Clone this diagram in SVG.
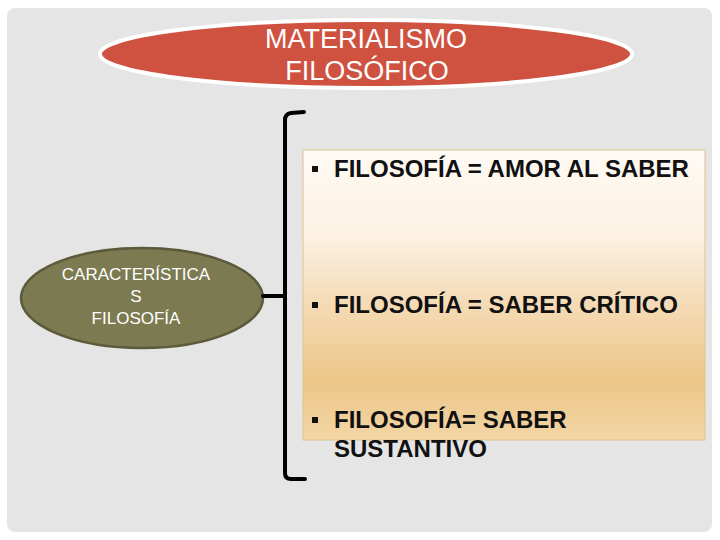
<svg xmlns="http://www.w3.org/2000/svg" width="720" height="540" viewBox="0 0 720 540">
<defs>
<linearGradient id="boxg" x1="0" y1="0" x2="0" y2="1">
<stop offset="0" stop-color="#fefaf4"/>
<stop offset="0.3" stop-color="#fcf1e2"/>
<stop offset="0.55" stop-color="#f4d9b2"/>
<stop offset="0.8" stop-color="#ecc688"/>
<stop offset="1" stop-color="#f2d6a6"/>
</linearGradient>
<style>
.title{font-family:"Liberation Sans",Arial,sans-serif;font-size:27px;fill:#ffffff;text-anchor:middle}
.olive{font-family:"Liberation Sans",Arial,sans-serif;font-size:17px;fill:#ffffff;text-anchor:middle}
.item{font-family:"Liberation Sans",Arial,sans-serif;font-size:24px;font-weight:bold;fill:#111111}
.line{fill:none;stroke:#000000;stroke-width:4;stroke-linecap:round;stroke-linejoin:round}
</style>
</defs>
<rect x="0" y="0" width="720" height="540" fill="#ffffff"/>
<rect x="7" y="8" width="705" height="524" rx="8" fill="#e5e5e5"/>
<g id="title">
<ellipse cx="366" cy="54" rx="266" ry="34" fill="#cf5240" stroke="#ffffff" stroke-width="4"/>
<text class="title" x="366" y="48">MATERIALISMO</text>
<text class="title" x="367" y="80">FILOSÓFICO</text>
</g>
<g id="caracteristicas">
<ellipse cx="142" cy="298" rx="121" ry="50" fill="#7c7a50" stroke="#5b5a3a" stroke-width="2.5"/>
<text class="olive" x="136" y="280">CARACTERÍSTICA</text>
<text class="olive" x="136" y="302">S</text>
<text class="olive" x="136" y="324">FILOSOFÍA</text>
</g>
<g id="connectors">
<path class="line" d="M304,112 L291,113 Q285,114 285,120 L285,473 Q285,479 291,479 L305,479"/>
<path class="line" d="M263,296 L285,296"/>
</g>
<g id="definiciones">
<rect x="303" y="150" width="402" height="290" fill="url(#boxg)" stroke="#dcc58c" stroke-width="1"/>
<rect x="312" y="166" width="6" height="6" fill="#111111"/>
<text class="item" x="334" y="177">FILOSOFÍA = AMOR AL SABER</text>
<rect x="312" y="302" width="6" height="6" fill="#111111"/>
<text class="item" x="334" y="313">FILOSOFÍA = SABER CRÍTICO</text>
<rect x="312" y="417" width="6" height="6" fill="#111111"/>
<text class="item" x="334" y="428">FILOSOFÍA= SABER</text>
<text class="item" x="334" y="457">SUSTANTIVO</text>
</g>
</svg>
